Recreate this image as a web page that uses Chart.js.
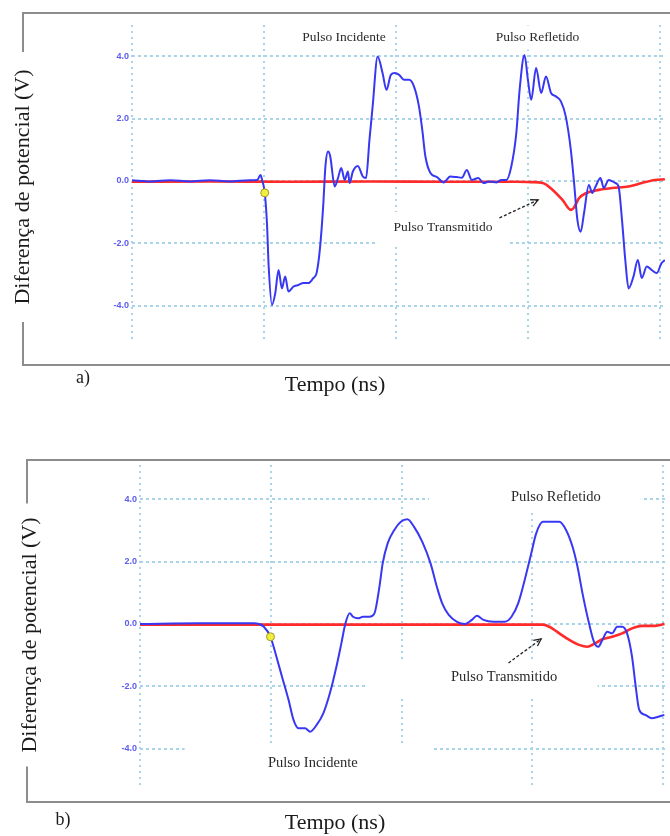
<!DOCTYPE html>
<html>
<head>
<meta charset="utf-8">
<script src="https://cdn.jsdelivr.net/npm/chart.js@4.4.1/dist/chart.umd.min.js"></script>
<style>
  html, body { margin: 0; padding: 0; background: #fff; overflow: hidden; }
  #wrap { position: relative; width: 670px; height: 836px; }
  canvas { position: absolute; left: 0; }
  #graphA { top: 0; }
  #graphB { top: 420px; }
</style>
</head>
<body>
<div id="wrap">
  <canvas id="graphA" width="670" height="400"></canvas>
  <canvas id="graphB" width="670" height="416"></canvas>
</div>
<script>
// eixos
const yTicks = [-4, -2, 0, 2, 4];
const xGrid = [0, 1, 2, 3, 4];

// painel a) - tempo (divisoes) e tensao (V)
const timeA = [0, 0.14, 0.29, 0.44, 0.59, 0.74, 0.89, 0.95, 0.974, 0.986, 1.006, 1.023, 1.036, 1.061, 1.086,
  1.111, 1.136, 1.161, 1.186, 1.224, 1.261, 1.299, 1.336, 1.374, 1.399, 1.424, 1.449, 1.466, 1.486, 1.502,
  1.537, 1.562, 1.586, 1.612, 1.637, 1.649, 1.674, 1.712, 1.749, 1.774, 1.80, 1.824, 1.862, 1.899, 1.929,
  1.962, 1.992, 2.025, 2.062, 2.10, 2.137, 2.175, 2.20, 2.224, 2.262, 2.312, 2.363, 2.412, 2.462, 2.50,
  2.538, 2.575, 2.625, 2.663, 2.712, 2.763, 2.80, 2.838, 2.875, 2.913, 2.938, 2.975, 3.001, 3.026, 3.063,
  3.101, 3.138, 3.176, 3.213, 3.251, 3.288, 3.326, 3.351, 3.376, 3.401, 3.426, 3.463, 3.489, 3.514, 3.551,
  3.576, 3.613, 3.664, 3.688, 3.714, 3.739, 3.764, 3.801, 3.834, 3.864, 3.902, 3.939, 3.977, 4.014, 4.039];
const blueA = [0.02, -0.02, 0.02, -0.02, 0.02, -0.02, 0.02, 0.03, 0.19, 0.03, -0.38, -1.36, -2.75, -3.98, -3.60,
  -2.86, -3.45, -3.07, -3.55, -3.39, -3.34, -3.28, -3.28, -3.12, -2.96, -2.20, -0.82, 0.46, 0.94, 0.80,
  -0.18, 0.10, 0.41, 0.03, 0.30, -0.07, 0.30, 0.48, 0.14, 0.09, 1.32, 2.39, 3.99, 3.46, 2.92,
  3.40, 3.46, 3.40, 3.24, 3.24, 3.03, 2.39, 1.64, 0.78, 0.25, 0.12, -0.05, 0.14, 0.12, 0.10,
  0.35, 0.03, 0.09, -0.07, -0.02, -0.05, 0.03, 0.03, 0.46, 1.53, 2.92, 4.04, 3.24, 2.60, 3.62,
  2.82, 3.35, 2.82, 2.71, 2.55, 2.06, 1.00, -0.07, -1.25, -1.63, -1.04, -0.13, -0.39, -0.18, 0.09,
  -0.23, 0.03, -0.07, -0.18, -1.25, -2.54, -3.45, -3.07, -2.54, -3.12, -2.75, -2.86, -2.96, -2.64, -2.54];
const timeRedA = [0, 0.6, 1.2, 1.8, 2.4, 2.913, 3.026, 3.113, 3.188, 3.263, 3.326, 3.348, 3.388, 3.438, 3.538,
  3.639, 3.764, 3.864, 3.964, 4.039];
const redA = [-0.03, -0.02, -0.03, -0.02, -0.03, -0.03, -0.04, -0.07, -0.29, -0.61, -0.93, -0.87, -0.56, -0.40, -0.29,
  -0.23, -0.18, -0.07, 0.03, 0.05];
const triggerA = [1.006, -0.385];

// painel b)
const timeB = [0, 0.455, 0.871, 0.909, 0.947, 0.998, 1.036, 1.086, 1.136, 1.174, 1.212, 1.263, 1.301, 1.351,
  1.402, 1.452, 1.502, 1.54, 1.57, 1.604, 1.629, 1.667, 1.705, 1.755, 1.793, 1.831, 1.856, 1.894, 1.945,
  1.995, 2.045, 2.096, 2.159, 2.222, 2.273, 2.311, 2.361, 2.424, 2.487, 2.538, 2.576, 2.627, 2.702, 2.79,
  2.841, 2.892, 2.942, 2.992, 3.03, 3.081, 3.144, 3.207, 3.258, 3.308, 3.346, 3.384, 3.434, 3.472, 3.505,
  3.536, 3.574, 3.611, 3.649, 3.687, 3.725, 3.763, 3.788, 3.818, 3.864, 3.914, 3.964, 4.01];
const blueB = [0, 0.02, 0.02, 0, -0.09, -0.41, -0.94, -1.69, -2.43, -3.07, -3.34, -3.34, -3.45, -3.23,
  -2.86, -2.22, -1.37, -0.62, 0, 0.34, 0.23, 0.18, 0.23, 0.23, 0.34, 1.19, 1.94, 2.58, 3.01,
  3.27, 3.35, 3.11, 2.63, 1.94, 1.15, 0.66, 0.29, 0.07, 0, 0.13, 0.26, 0.13, 0.07, 0.07,
  0.23, 0.66, 1.41, 2.26, 2.90, 3.27, 3.27, 3.27, 3.01, 2.47, 1.83, 0.98, 0.02, -0.57, -0.73,
  -0.51, -0.25, -0.30, -0.09, -0.09, -0.30, -1.05, -1.90, -2.75, -2.91, -3.02, -2.97, -2.91];
const timeRedB = [0, 0.8, 1.6, 2.4, 3.081, 3.131, 3.207, 3.283, 3.358, 3.422, 3.472, 3.536, 3.611, 3.687,
  3.763, 3.839, 3.939, 4.01];
const redB = [-0.02, -0.02, -0.02, -0.02, -0.02, -0.09, -0.30, -0.51, -0.67, -0.73, -0.64, -0.49, -0.41, -0.30,
  -0.14, -0.06, -0.06, 0];
const triggerB = [0.998, -0.41];

function toXY(xs, ys) {
  return xs.map((x, i) => ({ x: x, y: ys[i] }));
}

// moldura, titulos dos eixos e letra do painel
const moldura = {
  id: 'moldura',
  beforeDraw(chart, args, o) {
    const c = chart.ctx;
    c.save();
    c.strokeStyle = '#8d8d8d';
    c.lineWidth = 2;
    c.beginPath();
    c.moveTo(chart.width + 5, o.top);
    c.lineTo(o.left, o.top);
    c.lineTo(o.left, o.bottom);
    c.lineTo(chart.width + 5, o.bottom);
    c.stroke();

    c.fillStyle = '#fff';
    c.fillRect(o.left - 14, o.titleY - o.gap / 2, 30, o.gap);

    c.fillStyle = '#1b1b1b';
    c.textAlign = 'center';
    c.textBaseline = 'middle';
    c.font = '22px "Liberation Serif"';
    c.fillText('Tempo (ns)', o.xTitleX, o.xTitleY);
    c.font = '18px "Liberation Serif"';
    c.fillText(o.letter, o.letterX, o.letterY);

    c.translate(o.titleX, o.titleY);
    c.rotate(-Math.PI / 2);
    c.font = '22px "Liberation Serif"';
    c.fillText('Diferença de potencial (V)', 0, 0);
    c.restore();
  }
};

// caixas brancas, textos e seta
const notas = {
  id: 'notas',
  beforeDatasetsDraw(chart, args, o) {
    const { x, y } = chart.scales;
    const c = chart.ctx;
    c.save();
    c.fillStyle = '#fff';
    o.items.forEach(n => {
      const x1 = x.getPixelForValue(n.box[0]);
      const x2 = x.getPixelForValue(n.box[1]);
      const y1 = y.getPixelForValue(n.box[2]);
      const y2 = y.getPixelForValue(n.box[3]);
      c.fillRect(x1, y1, x2 - x1, y2 - y1);
    });
    c.restore();
  },
  afterDatasetsDraw(chart, args, o) {
    const { x, y } = chart.scales;
    const c = chart.ctx;
    c.save();
    c.fillStyle = '#2a2a2a';
    c.textAlign = 'center';
    c.textBaseline = 'middle';
    c.font = o.size + 'px "Liberation Serif"';
    o.items.forEach(n => {
      c.fillText(n.text, x.getPixelForValue(n.t), y.getPixelForValue(n.v));
    });

    const ax = x.getPixelForValue(o.arrow[0]), ay = y.getPixelForValue(o.arrow[1]);
    const bx = x.getPixelForValue(o.arrow[2]), by = y.getPixelForValue(o.arrow[3]);
    c.strokeStyle = '#222';
    c.lineWidth = 1.3;
    c.setLineDash([3, 2]);
    c.beginPath();
    c.moveTo(ax, ay);
    c.lineTo(bx, by);
    c.stroke();
    c.setLineDash([]);
    const ang = Math.atan2(by - ay, bx - ax);
    c.beginPath();
    c.moveTo(bx - 8 * Math.cos(ang - 0.45), by - 8 * Math.sin(ang - 0.45));
    c.lineTo(bx, by);
    c.lineTo(bx - 8 * Math.cos(ang + 0.45), by - 8 * Math.sin(ang + 0.45));
    c.stroke();
    c.restore();
  }
};

function makeChart(id, p) {
  return new Chart(document.getElementById(id), {
    type: 'line',
    data: {
      datasets: [{
        type: 'scatter',
        data: [{ x: p.trigger[0], y: p.trigger[1] }],
        pointRadius: 4,
        pointBackgroundColor: '#f2ee3c',
        pointBorderColor: '#a09a30',
        pointBorderWidth: 1
      }, {
        data: toXY(p.time, p.blue),
        borderColor: '#3838f2',
        borderWidth: 2,
        pointRadius: 0,
        cubicInterpolationMode: 'monotone'
      }, {
        data: toXY(p.timeRed, p.red),
        borderColor: '#ff2a2a',
        borderWidth: 2.6,
        pointRadius: 0,
        cubicInterpolationMode: 'monotone'
      }]
    },
    options: {
      responsive: false,
      animation: false,
      events: [],
      layout: { padding: p.padding },
      plugins: {
        legend: { display: false },
        tooltip: { enabled: false },
        moldura: p.frame,
        notas: p.notes
      },
      scales: {
        x: {
          type: 'linear',
          min: 0,
          max: p.xMax,
          afterBuildTicks: s => { s.ticks = xGrid.map(v => ({ value: v })); },
          afterFit: s => { s.height = 0; },
          ticks: { display: false },
          grid: { color: 'rgb(168,213,233)', lineWidth: 2, drawTicks: false },
          border: { display: false, dash: [2, 4] }
        },
        y: {
          min: p.yMin,
          max: p.yMax,
          afterBuildTicks: s => { s.ticks = yTicks.map(v => ({ value: v })); },
          afterFit: s => { s.width = p.padding.axis; },
          ticks: {
            padding: 3,
            color: '#5c5cf0',
            font: { family: 'Liberation Sans', size: 9, weight: 'bold' },
            callback: v => v.toFixed(1)
          },
          grid: { color: 'rgb(168,213,233)', lineWidth: 2, drawTicks: false },
          border: { display: false, dash: [3, 3] }
        }
      }
    },
    plugins: [moldura, notas]
  });
}

makeChart('graphA', {
  time: timeA, blue: blueA, timeRed: timeRedA, red: redA, trigger: triggerA,
  xMax: 4.04, yMin: -5.17, yMax: 5.0,
  padding: { top: 25, bottom: 58, left: 0, right: 0, axis: 132 },
  frame: { left: 23, top: 13, bottom: 365, titleX: 23, titleY: 187, gap: 270,
    xTitleX: 335, xTitleY: 385, letter: 'a)', letterX: 83, letterY: 378 },
  notes: {
    size: 13.5,
    items: [
      { text: 'Pulso Incidente', t: 1.607, v: 4.59, box: [1.20, 1.98, 4.98, 4.21] },
      { text: 'Pulso Refletido', t: 3.074, v: 4.59, box: [2.673, 3.476, 4.98, 4.21] },
      { text: 'Pulso Transmitido', t: 2.357, v: -1.51, box: [1.847, 2.853, -1.0, -2.12] }
    ],
    arrow: [2.785, -1.19, 3.078, -0.61]
  }
});

makeChart('graphB', {
  time: timeB, blue: blueB, timeRed: timeRedB, red: redB, trigger: triggerB,
  xMax: 4.015, yMin: -5.22, yMax: 5.09,
  padding: { top: 45, bottom: 49, left: 0, right: 0, axis: 140 },
  frame: { left: 27, top: 40, bottom: 382, titleX: 30, titleY: 215, gap: 263,
    xTitleX: 335, xTitleY: 403, letter: 'b)', letterX: 63, letterY: 400 },
  notes: {
    size: 14.5,
    items: [
      { text: 'Pulso Refletido', t: 3.18, v: 4.06, box: [2.21, 3.83, 5.1, 3.65] },
      { text: 'Pulso Transmitido', t: 2.784, v: -1.70, box: [1.742, 3.5, -1.15, -2.34] },
      { text: 'Pulso Incidente', t: 1.322, v: -4.45, box: [0.341, 2.235, -3.94, -5.25] }
    ],
    arrow: [2.818, -1.25, 3.068, -0.48]
  }
});
</script>
</body>
</html>
